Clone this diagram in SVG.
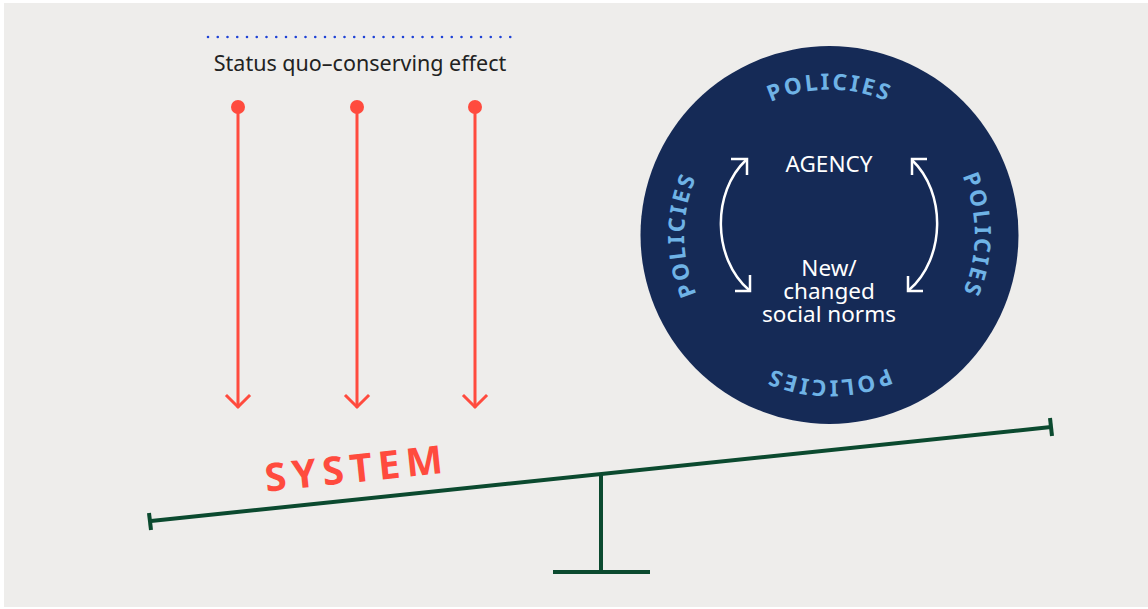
<svg xmlns="http://www.w3.org/2000/svg" xmlns:xlink="http://www.w3.org/1999/xlink" width="1148" height="609" viewBox="0 0 1148 609">
<style>
.red{stroke:#ff4b3e;stroke-width:3;fill:none;stroke-linecap:square}
.green{stroke:#0b4a2f;stroke-width:4;fill:none}
.wht{stroke:#ffffff;stroke-width:2.5;fill:none}
.pol{font-family:"Noto Sans","DejaVu Sans",sans-serif;font-weight:700;font-size:22.5px;fill:#6fb3e6;letter-spacing:2.5px}
.inner{font-family:"Noto Sans","DejaVu Sans",sans-serif;font-size:22.5px;fill:#ffffff;text-anchor:middle}
</style>
<defs>
<path id="ring" d="M932.03,337.53 A145,145 0 1 1 726.97,132.47 A145,145 0 1 1 932.03,337.53"/>
</defs>
<rect x="4" y="3" width="1144" height="604" fill="#eeedeb"/>
<g id="legend">
<line x1="208" y1="37" x2="520" y2="37" stroke="#1e42d6" stroke-width="2.6" stroke-linecap="round" stroke-dasharray="0 9.75"/>
<text x="360" y="71" font-family="'Noto Sans','DejaVu Sans',sans-serif" font-size="21.5" fill="#222222" text-anchor="middle">Status quo–conserving effect</text>
</g>
<g id="policies-circle">
<circle cx="829.5" cy="235" r="189" fill="#152a56"/>
<text class="pol"><textPath xlink:href="#ring" startOffset="12.5%" text-anchor="middle">POLICIES</textPath></text>
<text class="pol"><textPath xlink:href="#ring" startOffset="37.5%" text-anchor="middle">POLICIES</textPath></text>
<text class="pol"><textPath xlink:href="#ring" startOffset="62.5%" text-anchor="middle">POLICIES</textPath></text>
<text class="pol"><textPath xlink:href="#ring" startOffset="87.5%" text-anchor="middle">POLICIES</textPath></text>
</g>
<g id="agency"><text class="inner" x="829" y="172" font-size="24">AGENCY</text></g>
<g id="norms"><text class="inner" x="829" y="276">New/<tspan x="829" dy="23">changed</tspan><tspan x="829" dy="23">social norms</tspan></text></g>
<g id="connectors">
<g id="arrow1"><circle cx="238" cy="107" r="7" fill="#ff4b3e"/><line class="red" x1="238" y1="107" x2="238" y2="406"/><polyline class="red" points="227,396 238,407 249,396"/></g>
<g id="arrow2"><circle cx="357" cy="107" r="7" fill="#ff4b3e"/><line class="red" x1="357" y1="107" x2="357" y2="406"/><polyline class="red" points="346,396 357,407 368,396"/></g>
<g id="arrow3"><circle cx="475" cy="107" r="7" fill="#ff4b3e"/><line class="red" x1="475" y1="107" x2="475" y2="406"/><polyline class="red" points="464,396 475,407 486,396"/></g>
<g id="loop-left"><path class="wht" d="M746,160 C712,192 712,258 749,290"/><polyline class="wht" points="731,159 747,159 747,175"/><polyline class="wht" points="735,291 750,291 750,275"/></g>
<g id="loop-right"><path class="wht" d="M912,160 C946,192 946,258 909,290"/><polyline class="wht" points="927,159 912,159 912,175"/><polyline class="wht" points="923,291 908,291 908,276"/></g>
</g>
<g id="system-label"><text x="358" y="482" transform="rotate(-6 358 482)" font-family="'Noto Sans','DejaVu Sans',sans-serif" font-weight="700" font-size="39" fill="#ff4b3e" text-anchor="middle" letter-spacing="6">SYSTEM</text></g>
<g id="seesaw">
<line class="green" x1="151" y1="521" x2="1051" y2="427"/>
<line class="green" x1="149" y1="513" x2="151" y2="530"/>
<line class="green" x1="1050" y1="418" x2="1052" y2="436"/>
<line class="green" x1="601" y1="474" x2="601" y2="572"/>
<line class="green" x1="553" y1="572" x2="650" y2="572"/>
</g>
</svg>
